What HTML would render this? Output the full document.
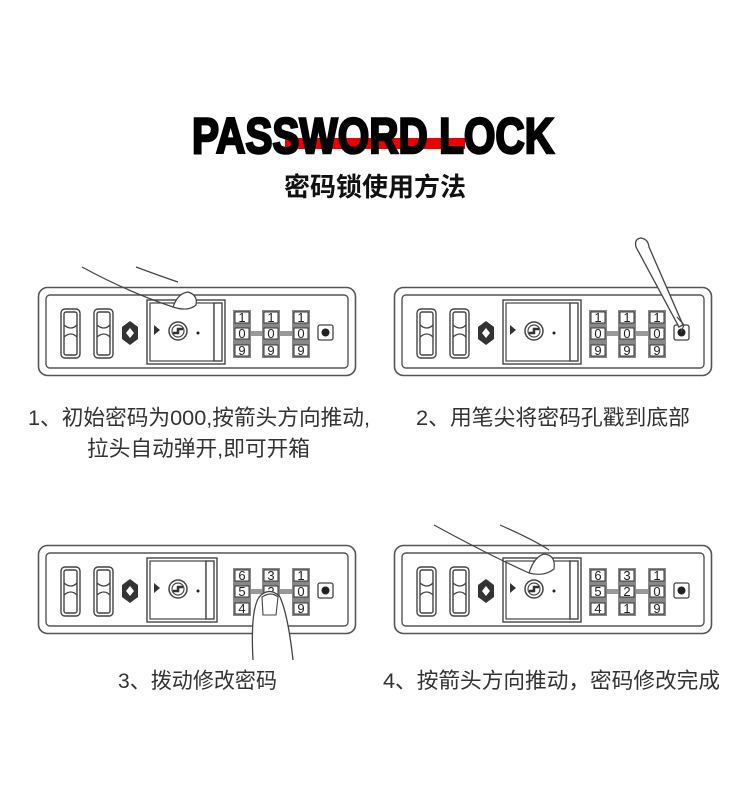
<!DOCTYPE html>
<html><head><meta charset="utf-8"><style>
body{margin:0;background:#fff;width:750px;height:780px;overflow:hidden;font-family:"Liberation Sans","Noto Sans CJK SC",sans-serif}
</style></head><body>
<svg width="750" height="780" viewBox="0 0 750 780" xmlns="http://www.w3.org/2000/svg">
<defs>
<g id="base">
  <rect x="0.5" y="0.5" width="317" height="88" rx="9" fill="#fff" stroke="#555" stroke-width="1.6"/>
  <rect x="8" y="8" width="302" height="73" rx="4" fill="#fff" stroke="#555" stroke-width="1.4"/>
  <g fill="#fff" stroke="#444" stroke-width="1.4">
    <rect x="23" y="22" width="19" height="49" rx="4"/><rect x="26" y="25" width="13" height="43" rx="2"/>
    <rect x="56" y="22" width="19" height="49" rx="4"/><rect x="59" y="25" width="13" height="43" rx="2"/>
  </g>
  <path d="M26 38 Q33 44 39 38 M26 50 Q33 44 39 50 M59 38 Q66 44 72 38 M59 50 Q66 44 72 50" fill="none" stroke="#444" stroke-width="1.3"/>
  <path d="M92 34 L100 40 L100 52 L92 58 L84 52 L84 40 Z" fill="#333"/>
  <path d="M92 41 L96 46 L92 51 L88 46 Z" fill="#fff"/>
  <rect x="195" y="23" width="18" height="48" fill="#888"/><rect x="224" y="23" width="18" height="48" fill="#888"/><rect x="254" y="23" width="18" height="48" fill="#888"/>
  <rect x="213" y="44" width="11" height="5" fill="#999"/><rect x="242" y="44" width="12" height="5" fill="#999"/>
  <rect x="280" y="38" width="15" height="15" rx="2" fill="#fff" stroke="#444" stroke-width="1.3"/>
  <circle cx="287.5" cy="45.5" r="4" fill="#222"/>
</g>
<g id="slider">
  <rect x="109" y="13" width="78" height="64" fill="#fff" stroke="#444" stroke-width="1.4"/>
  <rect x="112" y="16" width="64" height="58" fill="#fff" stroke="#444" stroke-width="1.2"/>
  <rect x="176" y="16" width="8" height="58" fill="#fff" stroke="#444" stroke-width="1.4"/>
  <path d="M116 38 L122 43 L116 48 Z" fill="#333"/>
  <circle cx="140" cy="44" r="9" fill="#fff" stroke="#444" stroke-width="1.5"/>
  <circle cx="140" cy="44" r="6" fill="#fff" stroke="#444" stroke-width="1.2"/>
  <path d="M135 46 L140 46 L140 42 L145 42" fill="none" stroke="#333" stroke-width="2.5"/>
  <circle cx="160" cy="46" r="1.5" fill="#222"/>
</g>
</defs>
<style>.d{font:13px "Liberation Sans",sans-serif;fill:#222;text-anchor:middle}.cell{fill:#fff;stroke:#333;stroke-width:1}</style>

<!-- title -->
<rect x="285" y="138" width="180" height="11" fill="#e00"/>
<text x="373" y="153" text-anchor="middle" font-family="Liberation Sans" font-weight="bold" font-size="50" fill="#000" stroke="#000" stroke-width="2.5" textLength="362" lengthAdjust="spacingAndGlyphs">PASSWORD LOCK</text>
<text x="375" y="196" text-anchor="middle" font-family="Liberation Sans,Noto Sans CJK SC,sans-serif" font-weight="bold" font-size="26" fill="#111">密码锁使用方法</text>

<!-- lock 1 -->
<g transform="translate(38,287)">
  <use href="#base"/><use href="#slider"/>
  <g>
   <rect class="cell" x="197" y="25" width="14" height="11"/><rect class="cell" x="197" y="41" width="14" height="11"/><rect class="cell" x="197" y="58" width="14" height="11"/>
   <rect class="cell" x="226" y="25" width="14" height="11"/><rect class="cell" x="226" y="41" width="14" height="11"/><rect class="cell" x="226" y="58" width="14" height="11"/>
   <rect class="cell" x="256" y="25" width="14" height="11"/><rect class="cell" x="256" y="41" width="14" height="11"/><rect class="cell" x="256" y="58" width="14" height="11"/>
   <text class="d" x="204" y="35">1</text><text class="d" x="204" y="51">0</text><text class="d" x="204" y="68">9</text>
   <text class="d" x="233" y="35">1</text><text class="d" x="233" y="51">0</text><text class="d" x="233" y="68">9</text>
   <text class="d" x="263" y="35">1</text><text class="d" x="263" y="51">0</text><text class="d" x="263" y="68">9</text>
  </g>
  <path d="M44 -20 Q90 5 135 20" fill="none" stroke="#444" stroke-width="1.2"/>
  <path d="M98 -20 Q125 -10 140 -5" fill="none" stroke="#444" stroke-width="1.2"/>
  <path d="M135 20 Q140 6 150 5 Q160 8 158 18 Q150 25 135 20 Z" fill="#fff" stroke="#444" stroke-width="1.2"/>
</g>

<!-- lock 2 -->
<g transform="translate(394,287)">
  <use href="#base"/><use href="#slider"/>
   <rect class="cell" x="197" y="25" width="14" height="11"/><rect class="cell" x="197" y="41" width="14" height="11"/><rect class="cell" x="197" y="58" width="14" height="11"/>
   <rect class="cell" x="226" y="25" width="14" height="11"/><rect class="cell" x="226" y="41" width="14" height="11"/><rect class="cell" x="226" y="58" width="14" height="11"/>
   <rect class="cell" x="256" y="25" width="14" height="11"/><rect class="cell" x="256" y="41" width="14" height="11"/><rect class="cell" x="256" y="58" width="14" height="11"/>
   <text class="d" x="204" y="35">1</text><text class="d" x="204" y="51">0</text><text class="d" x="204" y="68">9</text>
   <text class="d" x="233" y="35">1</text><text class="d" x="233" y="51">0</text><text class="d" x="233" y="68">9</text>
   <text class="d" x="263" y="35">1</text><text class="d" x="263" y="51">0</text><text class="d" x="263" y="68">9</text>
  <path d="M242 -40 Q240 -48 247 -49 Q254 -48 255 -40 L289 38 L285 40 Z" fill="#fff" stroke="#444" stroke-width="1.3"/>
  <path d="M283 30 L290 38 L287 45" fill="none" stroke="#444" stroke-width="1.2"/>
</g>

<!-- lock 3 -->
<g transform="translate(38,545)">
  <use href="#base"/>
  <rect x="109" y="13" width="70" height="64" fill="#fff" stroke="#444" stroke-width="1.4"/>
  <rect x="112" y="16" width="56" height="58" fill="#fff" stroke="#444" stroke-width="1.2"/>
  <rect x="168" y="16" width="8" height="58" fill="#fff" stroke="#444" stroke-width="1.4"/>
  <path d="M116 38 L122 43 L116 48 Z" fill="#333"/>
  <circle cx="140" cy="44" r="9" fill="#fff" stroke="#444" stroke-width="1.5"/>
  <circle cx="140" cy="44" r="6" fill="#fff" stroke="#444" stroke-width="1.2"/>
  <path d="M135 46 L140 46 L140 42 L145 42" fill="none" stroke="#333" stroke-width="2.5"/>
  <circle cx="160" cy="46" r="1.5" fill="#222"/>
   <rect class="cell" x="197" y="25" width="14" height="11"/><rect class="cell" x="197" y="41" width="14" height="11"/><rect class="cell" x="197" y="58" width="14" height="11"/>
   <rect class="cell" x="226" y="25" width="14" height="11"/><rect class="cell" x="226" y="41" width="14" height="11"/><rect class="cell" x="226" y="58" width="14" height="11"/>
   <rect class="cell" x="256" y="25" width="14" height="11"/><rect class="cell" x="256" y="41" width="14" height="11"/><rect class="cell" x="256" y="58" width="14" height="11"/>
   <text class="d" x="204" y="35">6</text><text class="d" x="204" y="51">5</text><text class="d" x="204" y="68">4</text>
   <text class="d" x="233" y="35">3</text><text class="d" x="233" y="51">2</text><text class="d" x="233" y="68">1</text>
   <text class="d" x="263" y="35">1</text><text class="d" x="263" y="51">0</text><text class="d" x="263" y="68">9</text>
  <path d="M215 115 Q212 60 223 50 Q233 42 242 52 Q250 70 255 115" fill="#fff" stroke="#444" stroke-width="1.3"/>
  <path d="M224 52 Q233 46 240 52 L238 70 L225 70 Z" fill="#fff" stroke="#444" stroke-width="1.1"/>
</g>

<!-- lock 4 -->
<g transform="translate(394,545)">
  <use href="#base"/><use href="#slider"/>
   <rect class="cell" x="197" y="25" width="14" height="11"/><rect class="cell" x="197" y="41" width="14" height="11"/><rect class="cell" x="197" y="58" width="14" height="11"/>
   <rect class="cell" x="226" y="25" width="14" height="11"/><rect class="cell" x="226" y="41" width="14" height="11"/><rect class="cell" x="226" y="58" width="14" height="11"/>
   <rect class="cell" x="256" y="25" width="14" height="11"/><rect class="cell" x="256" y="41" width="14" height="11"/><rect class="cell" x="256" y="58" width="14" height="11"/>
   <text class="d" x="204" y="35">6</text><text class="d" x="204" y="51">5</text><text class="d" x="204" y="68">4</text>
   <text class="d" x="233" y="35">3</text><text class="d" x="233" y="51">2</text><text class="d" x="233" y="68">1</text>
   <text class="d" x="263" y="35">1</text><text class="d" x="263" y="51">0</text><text class="d" x="263" y="68">9</text>
  <path d="M40 -20 Q95 10 135 28" fill="none" stroke="#444" stroke-width="1.2"/>
  <path d="M106 -20 Q140 -5 155 5" fill="none" stroke="#444" stroke-width="1.2"/>
  <path d="M135 28 Q140 12 150 9 Q162 10 160 24 Q150 32 135 28 Z" fill="#fff" stroke="#444" stroke-width="1.2"/>
</g>

<g font-family="Liberation Sans,Noto Sans CJK SC,sans-serif" font-size="21.5" fill="#333">
<text x="28" y="425" textLength="342" lengthAdjust="spacingAndGlyphs">1、初始密码为000,按箭头方向推动,</text>
<text x="87" y="456" textLength="223" lengthAdjust="spacingAndGlyphs">拉头自动弹开,即可开箱</text>
<text x="416" y="425" textLength="274" lengthAdjust="spacingAndGlyphs">2、用笔尖将密码孔戳到底部</text>
<text x="118" y="688" textLength="159" lengthAdjust="spacingAndGlyphs">3、拨动修改密码</text>
<text x="383" y="688" textLength="337" lengthAdjust="spacingAndGlyphs">4、按箭头方向推动，密码修改完成</text>
</g>
</svg>
</body></html>
